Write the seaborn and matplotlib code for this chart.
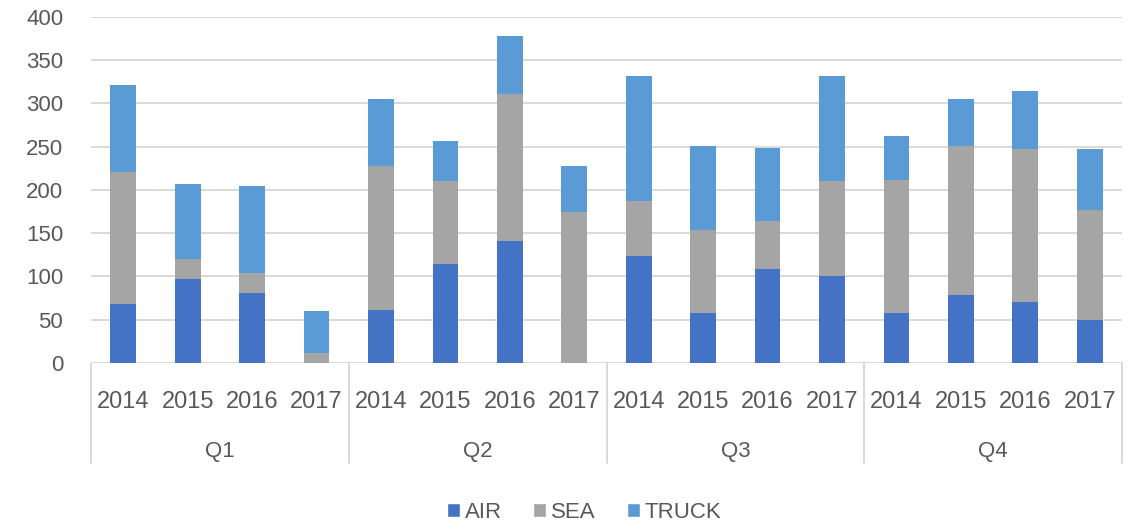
import pandas as pd
import numpy as np
import matplotlib.pyplot as plt
import matplotlib.transforms as mtransforms
from matplotlib.patches import Patch
import seaborn as sns

# Values
quarters = ['Q1', 'Q2', 'Q3', 'Q4']
years = ['2014', '2015', '2016', '2017']
air = [68, 97, 81, 0, 61, 114, 141, 0, 124, 58, 108, 101, 58, 78, 70, 50]
sea = [153, 23, 23, 11, 167, 96, 170, 174, 63, 96, 56, 109, 153, 173, 177, 127]
truck = [100, 87, 100, 49, 77, 47, 67, 54, 144, 97, 84, 121, 51, 54, 67, 70]

series_names = ['AIR', 'SEA', 'TRUCK']
colors = {'AIR': '#4472C4', 'SEA': '#A5A5A5', 'TRUCK': '#5B9BD5'}
text_color = '#595959'
grid_color = '#D9D9D9'

sns.set_style('white')
plt.rcParams['font.family'] = ['Liberation Sans', 'DejaVu Sans']

df = pd.DataFrame({
    'key': [f'{q} {y}' for q in quarters for y in years],
    'AIR': air, 'SEA': sea, 'TRUCK': truck,
})
# cumulative heights, drawn back to front to get the stacked look
df['air_top'] = df['AIR']
df['sea_top'] = df['AIR'] + df['SEA']
df['truck_top'] = df['AIR'] + df['SEA'] + df['TRUCK']
order = list(df['key'])

fig = plt.figure(figsize=(11.28, 5.28), dpi=100)
ax = fig.add_axes([91 / 1128, 1 - 363 / 528, (1122 - 91) / 1128, (363 - 16.7) / 528])

for col, name in [('truck_top', 'TRUCK'), ('sea_top', 'SEA'), ('air_top', 'AIR')]:
    sns.barplot(data=df, x='key', y=col, order=order, color=colors[name],
                width=0.4, errorbar=None, saturation=1, linewidth=0, ax=ax, zorder=3)

ax.set_xlim(-0.5, len(order) - 0.5)
ax.set_ylim(0, 400)
ax.set_yticks(np.arange(0, 401, 50))
ax.yaxis.grid(True, color=grid_color, linewidth=1.4, zorder=0)
ax.set_axisbelow(True)
for s in ax.spines.values():
    s.set_visible(False)
ax.axhline(0, color=grid_color, linewidth=1.4, zorder=1)

ax.set_xlabel('')
ax.set_ylabel('')
ax.set_xticks(range(len(order)))
ax.set_xticklabels(years * len(quarters))
ax.tick_params(axis='x', length=0, pad=20, labelsize=17, labelcolor=text_color)
ax.tick_params(axis='y', length=0, pad=20, labelsize=16, labelcolor=text_color)

# two-level category axis: quarter labels and separators
trans = mtransforms.blended_transform_factory(ax.transData, ax.transAxes)
for b in np.arange(-0.5, len(order), 4):
    ax.plot([b, b], [0, -0.29], transform=trans, color=grid_color,
            linewidth=1.4, clip_on=False)
for i, q in enumerate(quarters):
    ax.text(i * 4 + 1.5, -0.256, q, transform=trans, ha='center', va='center',
            fontsize=16, color=text_color)

handles = [Patch(facecolor=colors[n], label=n) for n in series_names]
leg = fig.legend(handles=handles, loc='center', bbox_to_anchor=(584 / 1128, 1 - 512 / 528),
                 ncol=3, frameon=False, fontsize=16, handlelength=0.6, handleheight=0.6,
                 handletextpad=0.2, columnspacing=1.4)
for t in leg.get_texts():
    t.set_color(text_color)

fig.savefig('out.png', dpi=100)
plt.close(fig)
